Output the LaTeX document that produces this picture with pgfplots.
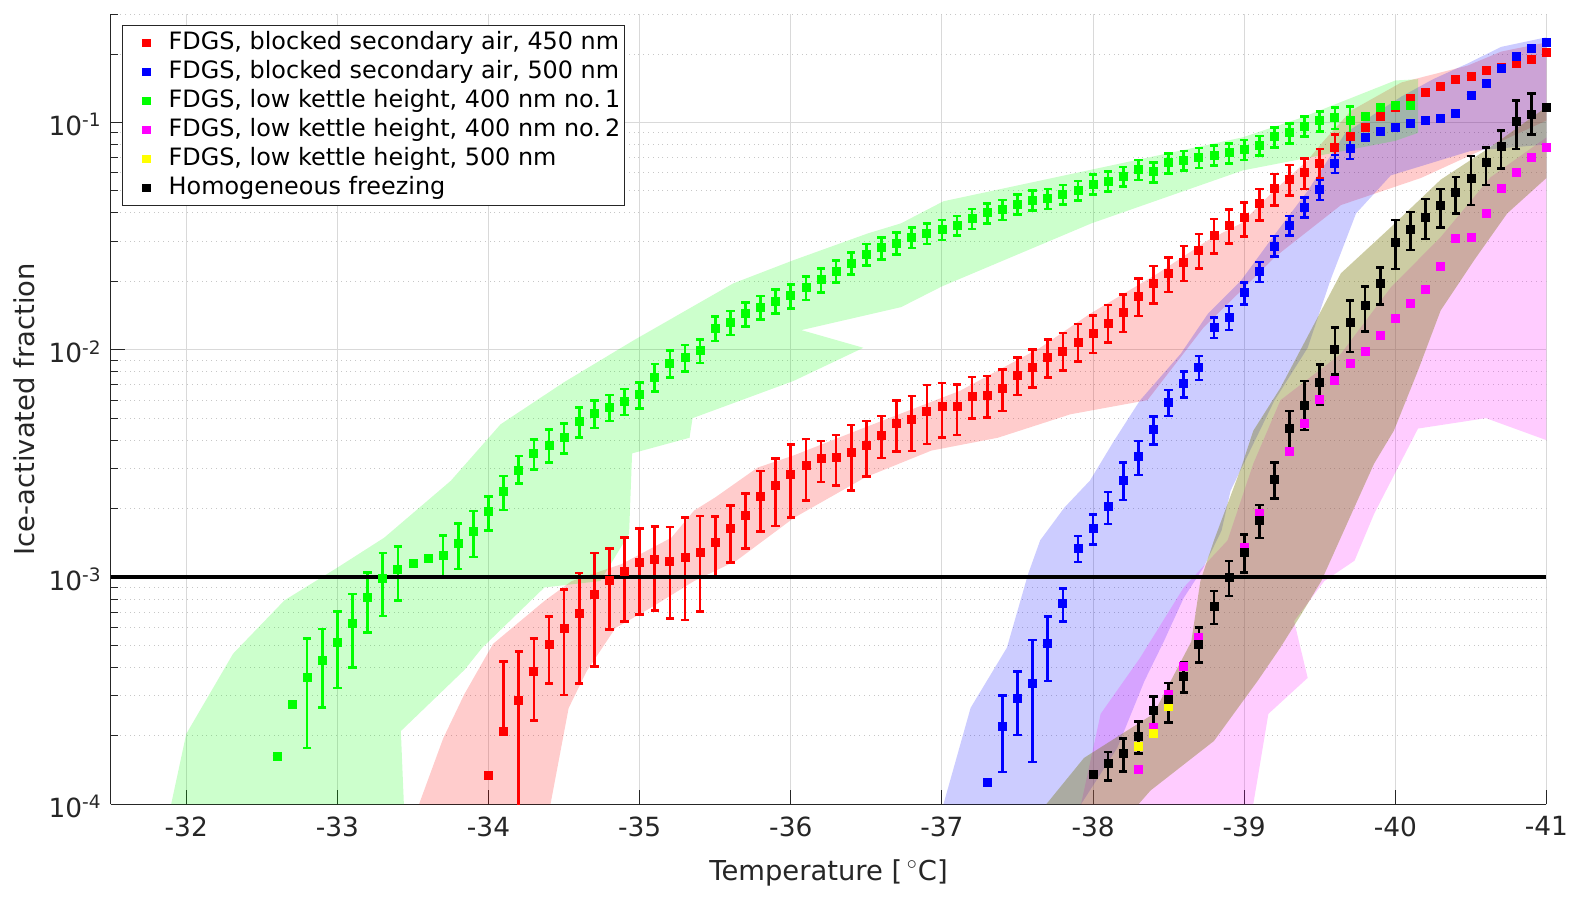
\documentclass[border=0pt]{standalone}
\usepackage{pgfplots}
\pgfplotsset{compat=1.18}
\usepackage{pgfplotstable}
\usepackage{fontspec}
\setmainfont{DejaVu Sans}
\definecolor{axgray}{RGB}{38,38,38}
\definecolor{cred}{RGB}{255,0,0}
\definecolor{cblue}{RGB}{0,0,255}
\definecolor{cgreen}{RGB}{0,255,0}
\definecolor{cmag}{RGB}{255,0,255}
\definecolor{cyel}{RGB}{255,255,0}
\definecolor{cblk}{RGB}{0,0,0}

\pgfplotstableread{
T v ep em
-34.0 1.34e-4 0 0
-34.1 2.09e-4 1.03 0
-34.2 2.87e-4 0.64 0.8
-34.3 3.84e-4 0.40 0.39
-34.4 5.07e-4 0.32 0.33
-34.5 5.94e-4 0.48 0.49
-34.6 6.94e-4 0.50 0.51
-34.7 8.41e-4 0.52 0.52
-34.8 9.63e-4 0.39 0.39
-34.9 1.06e-3 0.41 0.40
-35.0 1.16e-3 0.41 0.41
-35.1 1.19e-3 0.40 0.40
-35.2 1.17e-3 0.42 0.44
-35.3 1.22e-3 0.50 0.47
-35.4 1.28e-3 0.45 0.45
-35.5 1.42e-3 0.30 0.30
-35.6 1.63e-3 0.27 0.29
-35.7 1.86e-3 0.25 0.28
-35.8 2.27e-3 0.29 0.30
-35.9 2.54e-3 0.31 0.34
-36.0 2.82e-3 0.36 0.35
-36.1 3.11e-3 0.30 0.30
-36.2 3.31e-3 0.20 0.21
-36.3 3.37e-3 0.25 0.25
-36.4 3.54e-3 0.32 0.32
-36.5 3.79e-3 0.28 0.27
-36.6 4.22e-3 0.21 0.21
-36.7 4.75e-3 0.26 0.25
-36.8 4.92e-3 0.27 0.27
-36.9 5.35e-3 0.31 0.28
-37.0 5.62e-3 0.27 0.27
-37.1 5.62e-3 0.25 0.25
-37.2 6.23e-3 0.22 0.20
-37.3 6.29e-3 0.22 0.20
-37.4 6.73e-3 0.22 0.20
-37.5 7.70e-3 0.20 0.18
-37.6 8.34e-3 0.20 0.18
-37.7 9.22e-3 0.20 0.18
-37.8 9.87e-3 0.20 0.18
-37.9 1.08e-2 0.20 0.18
-38.0 1.18e-2 0.20 0.18
-38.1 1.31e-2 0.20 0.18
-38.2 1.46e-2 0.20 0.18
-38.3 1.72e-2 0.20 0.18
-38.4 1.95e-2 0.20 0.18
-38.5 2.16e-2 0.18 0.17
-38.6 2.42e-2 0.18 0.17
-38.7 2.74e-2 0.18 0.17
-38.8 3.19e-2 0.18 0.17
-38.9 3.53e-2 0.17 0.17
-39.0 3.84e-2 0.16 0.18
-39.1 4.40e-2 0.16 0.16
-39.2 5.12e-2 0.16 0.16
-39.3 5.61e-2 0.16 0.15
-39.4 6.00e-2 0.16 0.15
-39.5 6.60e-2 0.16 0.14
-39.6 7.76e-2 0.14 0.14
-39.7 8.65e-2 0 0
-39.8 9.50e-2 0 0
-39.9 0.106 0 0
-40.0 0.117 0 0
-40.1 0.127 0 0
-40.2 0.135 0 0
-40.3 0.144 0 0
-40.4 0.155 0 0
-40.5 0.160 0 0
-40.6 0.169 0 0
-40.7 0.175 0 0
-40.8 0.182 0 0
-40.9 0.190 0 0
-41.0 0.203 0 0
}\redtab

\pgfplotstableread{
T v ep em
-37.3 1.25e-4 0 0
-37.4 2.20e-4 0.37 0.37
-37.5 2.93e-4 0.31 0.31
-37.6 3.41e-4 0.55 0.55
-37.7 5.12e-4 0.31 0.32
-37.8 7.67e-4 0.16 0.17
-37.9 1.34e-3 0.13 0.13
-38.0 1.64e-3 0.15 0.15
-38.1 2.04e-3 0.16 0.16
-38.2 2.66e-3 0.20 0.18
-38.3 3.39e-3 0.17 0.17
-38.4 4.45e-3 0.14 0.14
-38.5 5.88e-3 0.13 0.13
-38.6 7.10e-3 0.13 0.13
-38.7 8.38e-3 0.12 0.12
-38.8 1.25e-2 0.11 0.10
-38.9 1.39e-2 0.12 0.12
-39.0 1.78e-2 0.11 0.11
-39.1 2.21e-2 0.10 0.10
-39.2 2.85e-2 0.11 0.10
-39.3 3.53e-2 0.10 0.10
-39.4 4.25e-2 0.10 0.10
-39.5 5.07e-2 0.10 0.10
-39.6 6.59e-2 0.09 0.09
-39.7 7.67e-2 0.10 0.10
-39.8 8.59e-2 0 0
-39.9 9.16e-2 0 0
-40.0 9.47e-2 0 0
-40.1 9.90e-2 0 0
-40.2 0.1016 0 0
-40.3 0.104 0 0
-40.4 0.110 0 0
-40.5 0.132 0 0
-40.6 0.148 0 0
-40.7 0.173 0 0
-40.8 0.195 0 0
-40.9 0.211 0 0
-41.0 0.224 0 0
}\bluetab

\pgfplotstableread{
T v ep em
-32.6 1.63e-4 0 0
-32.7 2.76e-4 0 0
-32.8 3.61e-4 0.49 0.51
-32.9 4.31e-4 0.37 0.38
-33.0 5.15e-4 0.37 0.37
-33.1 6.25e-4 0.35 0.36
-33.2 8.13e-4 0.29 0.30
-33.3 9.90e-4 0.29 0.32
-33.4 1.08e-3 0.26 0.27
-33.5 1.15e-3 0 0
-33.6 1.21e-3 0 0
-33.7 1.25e-3 0.22 0.19
-33.8 1.41e-3 0.22 0.23
-33.9 1.59e-3 0.23 0.23
-34.0 1.95e-3 0.16 0.18
-34.1 2.38e-3 0.17 0.17
-34.2 2.96e-3 0.15 0.13
-34.3 3.50e-3 0.15 0.15
-34.4 3.81e-3 0.17 0.16
-34.5 4.12e-3 0.15 0.15
-34.6 4.85e-3 0.15 0.15
-34.7 5.26e-3 0.14 0.14
-34.8 5.59e-3 0.13 0.13
-34.9 5.94e-3 0.13 0.13
-35.0 6.34e-3 0.13 0.13
-35.1 7.53e-3 0.15 0.13
-35.2 8.68e-3 0.14 0.13
-35.3 9.22e-3 0.14 0.13
-35.4 9.93e-3 0.12 0.12
-35.5 1.24e-2 0.13 0.12
-35.6 1.32e-2 0.12 0.12
-35.7 1.44e-2 0.12 0.12
-35.8 1.54e-2 0.12 0.12
-35.9 1.64e-2 0.12 0.12
-36.0 1.73e-2 0.12 0.12
-36.1 1.88e-2 0.12 0.12
-36.2 2.03e-2 0.12 0.12
-36.3 2.22e-2 0.11 0.11
-36.4 2.41e-2 0.11 0.11
-36.5 2.63e-2 0.11 0.11
-36.6 2.81e-2 0.11 0.11
-36.7 2.95e-2 0.11 0.11
-36.8 3.11e-2 0.11 0.10
-36.9 3.24e-2 0.11 0.10
-37.0 3.38e-2 0.10 0.10
-37.1 3.53e-2 0.10 0.10
-37.2 3.78e-2 0.10 0.10
-37.3 4.00e-2 0.10 0.10
-37.4 4.14e-2 0.10 0.10
-37.5 4.37e-2 0.10 0.10
-37.6 4.55e-2 0.10 0.10
-37.7 4.63e-2 0.10 0.10
-37.8 4.83e-2 0.10 0.10
-37.9 5.03e-2 0.10 0.10
-38.0 5.35e-2 0.10 0.10
-38.1 5.53e-2 0.10 0.10
-38.2 5.80e-2 0.10 0.10
-38.3 6.21e-2 0.10 0.10
-38.4 6.06e-2 0.10 0.10
-38.5 6.64e-2 0.10 0.10
-38.6 6.82e-2 0.10 0.10
-38.7 7.01e-2 0.10 0.10
-38.8 7.18e-2 0.10 0.10
-38.9 7.35e-2 0.10 0.10
-39.0 7.60e-2 0.10 0.10
-39.1 7.94e-2 0.10 0.10
-39.2 8.64e-2 0.10 0.10
-39.3 9.00e-2 0.10 0.10
-39.4 9.63e-2 0.10 0.10
-39.5 0.1016 0.10 0.10
-39.6 0.105 0.11 0.11
-39.7 0.102 0.15 0.12
-39.8 0.106 0 0
-39.9 0.116 0 0
-40.0 0.119 0 0
-40.1 0.119 0 0
}\greentab

\pgfplotstableread{
T v
-38.3 1.43e-4
-38.4 2.17e-4
-38.5 3.05e-4
-38.6 4.03e-4
-38.7 5.42e-4
-38.8 7.40e-4
-38.9 1.00e-3
-39.0 1.35e-3
-39.1 1.90e-3
-39.2 2.70e-3
-39.3 3.57e-3
-39.4 4.72e-3
-39.5 6.04e-3
-39.6 7.33e-3
-39.7 8.67e-3
-39.8 9.87e-3
-39.9 1.16e-2
-40.0 1.37e-2
-40.1 1.60e-2
-40.2 1.84e-2
-40.3 2.33e-2
-40.4 3.08e-2
-40.5 3.13e-2
-40.6 3.97e-2
-40.7 5.12e-2
-40.8 6.05e-2
-40.9 7.05e-2
-41.0 7.76e-2
}\magtab

\pgfplotstableread{
T v
-38.3 1.80e-4
-38.4 2.06e-4
-38.5 2.71e-4
}\yeltab

\pgfplotstableread{
T v ep em
-38.0 1.36e-4 0 0
-38.1 1.52e-4 0.12 0.16
-38.2 1.68e-4 0.16 0.17
-38.3 1.99e-4 0.16 0.16
-38.4 2.60e-4 0.15 0.15
-38.5 2.90e-4 0.18 0.21
-38.6 3.65e-4 0.15 0.15
-38.7 5.07e-4 0.18 0.17
-38.8 7.41e-4 0.17 0.16
-38.9 9.96e-4 0.18 0.17
-39.0 1.28e-3 0.20 0.18
-39.1 1.77e-3 0.17 0.16
-39.2 2.70e-3 0.18 0.18
-39.3 4.52e-3 0.19 0.22
-39.4 5.69e-3 0.28 0.22
-39.5 7.19e-3 0.20 0.20
-39.6 1.00e-2 0.25 0.22
-39.7 1.32e-2 0.25 0.26
-39.8 1.56e-2 0.22 0.23
-39.9 1.95e-2 0.18 0.19
-40.0 2.98e-2 0.25 0.24
-40.1 3.39e-2 0.19 0.19
-40.2 3.84e-2 0.20 0.20
-40.3 4.32e-2 0.18 0.20
-40.4 4.92e-2 0.17 0.19
-40.5 5.70e-2 0.25 0.24
-40.6 6.64e-2 0.17 0.20
-40.7 7.82e-2 0.18 0.20
-40.8 0.1007 0.24 0.24
-40.9 0.108 0.24 0.18
-41.0 0.116 0 0
}\blacktab

\pgfplotsset{
  dat/.style={only marks, mark=square*, mark size=2pt, color=#1},
  ebar/.style={error bars/.cd, y dir=both, y explicit relative,
    error bar style={line width=1.3pt},
    error mark options={rotate=90, mark size=2.1pt, line width=1.3pt}},
  band/.style={draw=none, fill=#1, fill opacity=0.2, forget plot},
}

\begin{document}
\begin{tikzpicture}
\begin{axis}[
  scale only axis, width=717.9pt, height=395.15pt,
  x dir=reverse, xmin=-41, xmax=-31.5,
  ymode=log, ymin=1e-4, ymax=0.3,
  axis x line*=bottom, axis y line*=left,
  axis line style={axgray, line width=0.6pt},
  xtick={-41,-40,-39,-38,-37,-36,-35,-34,-33,-32},
  xticklabels={-41,-40,-39,-38,-37,-36,-35,-34,-33,-32},
  ytick={1e-4,1e-3,1e-2,1e-1},
  yticklabels={10\textsuperscript{-4},10\textsuperscript{-3},10\textsuperscript{-2},10\textsuperscript{-1}},
  minor ytick={2e-4,3e-4,4e-4,5e-4,6e-4,7e-4,8e-4,9e-4,2e-3,3e-3,4e-3,5e-3,6e-3,7e-3,8e-3,9e-3,2e-2,3e-2,4e-2,5e-2,6e-2,7e-2,8e-2,9e-2,0.2,0.3},
  xmajorgrids, ymajorgrids, yminorgrids,
  major grid style={black!15, line width=0.5pt},
  minor grid style={black!22, dotted, line width=0.5pt},
  tick style={axgray, line width=0.5pt},
  major tick length=7pt, minor tick length=3.5pt,
  tick label style={font=\fontsize{13.2}{15}\selectfont, text=axgray},
  xticklabel style={yshift=-2.6pt},
  yticklabel style={anchor=base east, yshift=-6.5pt, xshift=-1pt},
  label style={font=\fontsize{13.7}{16}\selectfont, text=axgray},
  xlabel={Temperature [\,$^{\circ}$C]},
  ylabel={Ice-activated fraction},
  xlabel style={at={(axis description cs:0.5,0)}, anchor=base, yshift=-37.85pt},
  ylabel style={at={(axis description cs:-0.0604,0.5)}, anchor=center, rotate=0},
  legend cell align=left,
  legend style={at={(0,1)}, anchor=north west, xshift=5.6pt, yshift=-5.5pt,
    draw=axgray, line width=0.6pt, fill=white,
    font=\fontsize{11.95}{13}\selectfont, text=black,
    inner xsep=1.5pt, inner ysep=2.5pt, row sep=2pt,
    nodes={inner sep=0.5pt, text height=8.8pt, text depth=2.7pt}},
  legend image code/.code={
    \path (0cm,0cm) (0.72cm,0cm);
    \draw[#1, mark size=1.8pt] plot coordinates {(0.36cm,0cm)};
  },
]
% ---------- shaded uncertainty bands ----------
\addplot[band=cred] coordinates {
(-33.54,1e-4) (-33.70,1.95e-4) (-33.84,3.05e-4) (-34.03,5.08e-4) (-34.37,7.85e-4) (-34.55,9.6e-4) (-34.88,1.14e-3) (-35.21,1.49e-3) (-35.36,1.96e-3) (-35.50,2.24e-3) (-35.78,3.03e-3) (-36.02,3.43e-3) (-36.49,4.55e-3) (-37.12,6.6e-3) (-37.65,1.02e-2) (-37.98,1.44e-2) (-38.43,2.17e-2) (-38.76,3.03e-2) (-38.98,3.6e-2) (-39.20,5.03e-2) (-39.42,6.82e-2) (-39.53,8.35e-2) (-39.71,0.113) (-40.04,0.150) (-40.48,0.178) (-40.70,0.205) (-41,0.225)
(-41,0.102) (-40.17,5.7e-2) (-39.64,4.33e-2) (-39.20,2.55e-2) (-38.98,1.82e-2) (-38.73,1.25e-2) (-38.36,6.0e-3) (-37.85,5.2e-3) (-37.37,4.1e-3) (-36.93,3.6e-3) (-36.49,2.74e-3) (-36.02,1.82e-3) (-35.64,1.18e-3) (-35.36,9.6e-4) (-35.07,7.3e-4) (-34.84,5.97e-4) (-34.65,3.86e-4) (-34.53,2.65e-4) (-34.41,1e-4)
} --cycle;
\addplot[band=cblue] coordinates {
(-37.01,1e-4) (-37.19,2.66e-4) (-37.43,4.89e-4) (-37.57,1.03e-3) (-37.65,1.45e-3) (-37.81,2.02e-3) (-37.98,2.66e-3) (-38.14,3.99e-3) (-38.31,5.98e-3) (-38.58,9.6e-3) (-38.76,1.44e-2) (-38.98,2.02e-2) (-39.20,3.2e-2) (-39.42,5.0e-2) (-39.67,9.0e-2) (-40.04,0.13) (-40.25,0.155) (-40.48,0.182) (-40.70,0.215) (-41,0.237)
(-41,8.0e-2) (-40.5,7.5e-2) (-39.97,5.85e-2) (-39.74,3.98e-2) (-39.57,2.02e-2) (-39.42,1.02e-2) (-39.20,5.98e-3) (-38.91,2.4e-3) (-38.85,1.6e-3) (-38.73,1.1e-3) (-38.60,8.1e-4) (-38.47,5.24e-4) (-38.34,3.49e-4) (-38.16,1.77e-4) (-37.92,1e-4)
} --cycle;
\addplot[band=cgreen] coordinates {
(-31.9,1e-4) (-32.0,2.04e-4) (-32.31,4.6e-4) (-32.65,7.9e-4) (-33.0,1.1e-3) (-33.31,1.49e-3) (-33.75,2.65e-3) (-34.08,4.7e-3) (-34.5,7.2e-3) (-34.96,1.1e-2) (-35.62,1.96e-2) (-36.02,2.48e-2) (-36.51,3.25e-2) (-36.73,3.6e-2) (-37.01,4.5e-2) (-37.99,6.2e-2) (-38.99,8.6e-2) (-39.38,0.105) (-40.0,0.153) (-40.15,0.155)
(-40.15,9.0e-2) (-40.0,8.3e-2) (-38.99,6.15e-2) (-37.99,3.6e-2) (-37.0,1.9e-2) (-36.73,1.54e-2) (-36.07,1.22e-2) (-36.48,1.02e-2) (-36.02,7.3e-3) (-35.35,5.0e-3) (-35.33,4.1e-3) (-34.95,3.5e-3) (-34.93,1.55e-3) (-34.74,9.6e-4) (-34.37,9.0e-4) (-33.96,4.9e-4) (-33.84,3.9e-4) (-33.42,2.1e-4) (-33.44,1e-4)
} --cycle;
\addplot[band=cmag] coordinates {
(-37.92,1e-4) (-38.05,2.5e-4) (-38.31,4.4e-4) (-38.60,9.0e-4) (-38.89,1.45e-3) (-39.06,3.15e-3) (-39.24,6.0e-3) (-39.64,9.6e-3) (-39.97,1.88e-2) (-40.30,3.13e-2) (-40.63,5.74e-2) (-41,8.6e-2)
(-41,4.0e-3) (-40.6,5.0e-3) (-40.15,4.5e-3) (-39.86,1.9e-3) (-39.73,1.18e-3) (-39.53,9.6e-4) (-39.33,6.4e-4) (-39.42,3.6e-4) (-39.16,2.5e-4) (-39.06,1e-4)
} --cycle;
\addplot[band=cyel] coordinates {
(-37.69,1e-4) (-37.94,1.6e-4) (-38.40,2.5e-4) (-38.65,5.2e-4) (-38.71,9.6e-4) (-38.80,1.45e-3) (-38.98,3.03e-3) (-39.06,4.4e-3) (-39.24,6.8e-3) (-39.64,2.17e-2) (-39.97,3.46e-2) (-40.30,5.6e-2) (-40.63,7.8e-2) (-41.0,0.117)
(-41,5.7e-2) (-40.74,3.98e-2) (-40.52,2.47e-2) (-40.30,1.49e-2) (-40.15,8.1e-3) (-39.99,4.4e-3) (-39.86,3.16e-3) (-39.71,1.9e-3) (-39.51,9.6e-4) (-39.38,6.9e-4) (-39.24,4.9e-4) (-39.09,3.5e-4) (-38.93,2.5e-4) (-38.80,1.9e-4) (-38.38,1.15e-4) (-38.3,1e-4)
} --cycle;
\addplot[band=cblk] coordinates {
(-37.69,1e-4) (-37.94,1.6e-4) (-38.40,2.5e-4) (-38.65,5.2e-4) (-38.71,9.6e-4) (-38.80,1.45e-3) (-38.98,3.03e-3) (-39.06,4.4e-3) (-39.24,6.8e-3) (-39.64,2.17e-2) (-39.97,3.46e-2) (-40.30,5.6e-2) (-40.63,7.8e-2) (-41.0,0.117)
(-41,5.7e-2) (-40.74,3.98e-2) (-40.52,2.47e-2) (-40.30,1.49e-2) (-40.15,8.1e-3) (-39.99,4.4e-3) (-39.86,3.16e-3) (-39.71,1.9e-3) (-39.51,9.6e-4) (-39.38,6.9e-4) (-39.24,4.9e-4) (-39.09,3.5e-4) (-38.93,2.5e-4) (-38.80,1.9e-4) (-38.38,1.15e-4) (-38.3,1e-4)
} --cycle;
% ---------- data ----------
\addplot[dat=cred, ebar] table[x=T, y=v, y error plus=ep, y error minus=em]{\redtab};
\addlegendentry{FDGS, blocked secondary air, 450 nm}
\addplot[dat=cblue, ebar] table[x=T, y=v, y error plus=ep, y error minus=em]{\bluetab};
\addlegendentry{FDGS, blocked secondary air, 500 nm}
\addplot[dat=cgreen, ebar] table[x=T, y=v, y error plus=ep, y error minus=em]{\greentab};
\addlegendentry{FDGS, low kettle height, 400 nm no.\,1}
\addplot[dat=cmag] table[x=T, y=v]{\magtab};
\addlegendentry{FDGS, low kettle height, 400 nm no.\,2}
\addplot[dat=cyel] table[x=T, y=v]{\yeltab};
\addlegendentry{FDGS, low kettle height, 500 nm}
\addplot[dat=cblk, ebar] table[x=T, y=v, y error plus=ep, y error minus=em]{\blacktab};
\addlegendentry{Homogeneous freezing}
% ---------- threshold line ----------
\addplot[black, line width=2pt, forget plot] coordinates {(-31.5,1e-3) (-41,1e-3)};
\end{axis}
\pgfresetboundingbox
\path[use as bounding box] ([xshift=-55.35pt,yshift=-51.35pt]current axis.south west) rectangle ++(793pt,453.5pt);
\end{tikzpicture}
\end{document}
